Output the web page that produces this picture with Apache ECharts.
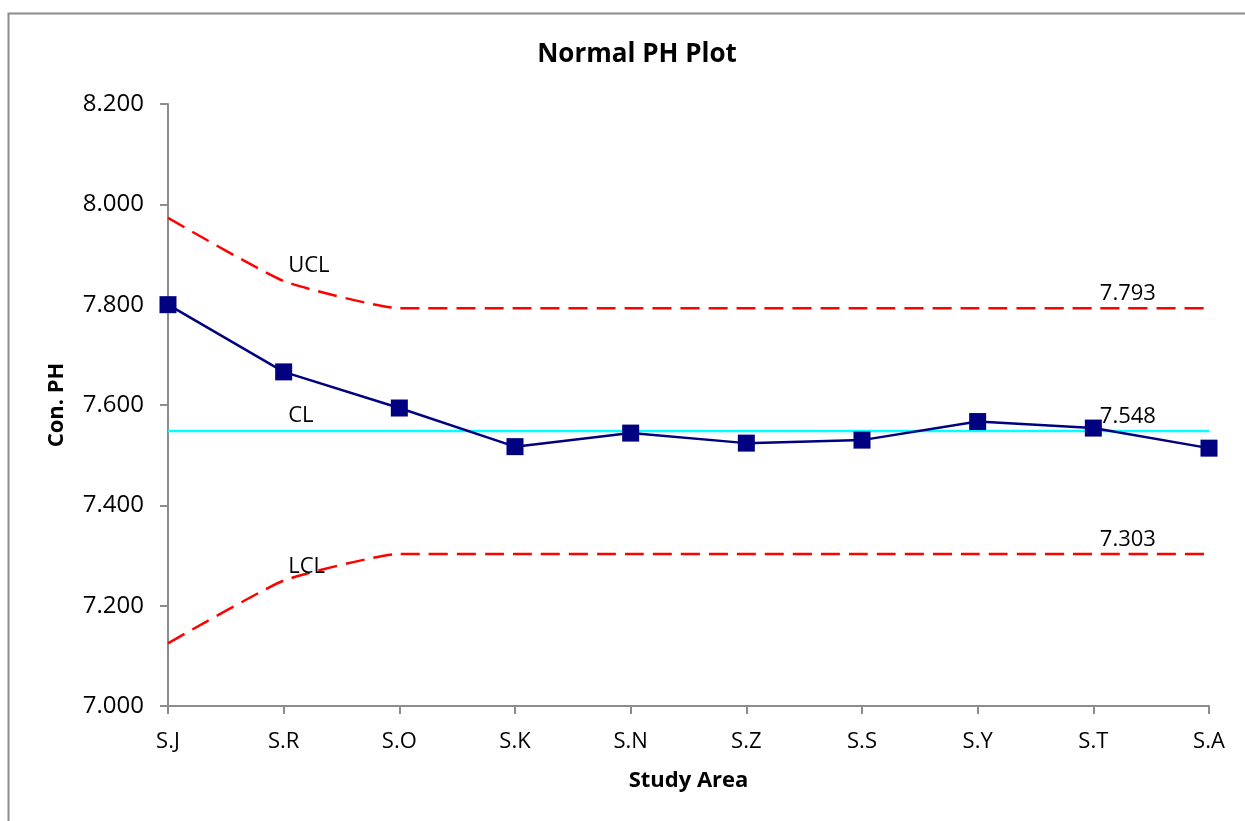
<!DOCTYPE html>
<html>
<head>
<meta charset="utf-8">
<script src="https://cdn.jsdelivr.net/npm/echarts@6/dist/echarts.min.js"></script>
<style>
html,body{margin:0;padding:0;background:#fff;}
#chart{width:1245px;height:821px;}
</style>
</head>
<body>
<div id="chart"></div>
<script>
const categories = ['S.J','S.R','S.O','S.K','S.N','S.Z','S.S','S.Y','S.T','S.A'];
const phValues = [7.800, 7.666, 7.594, 7.517, 7.544, 7.524, 7.530, 7.567, 7.554, 7.514];
const uclValues = [7.973, 7.847, 7.793, 7.793, 7.793, 7.793, 7.793, 7.793, 7.793, 7.793];
const clValues = [7.548, 7.548, 7.548, 7.548, 7.548, 7.548, 7.548, 7.548, 7.548, 7.548];
const lclValues = [7.125, 7.250, 7.303, 7.303, 7.303, 7.303, 7.303, 7.303, 7.303, 7.303];
const yTicks = {min: 7.0, max: 8.2, interval: 0.2};

const FONT = '"Open Sans", "Liberation Sans", sans-serif';
const labelStyle = {show: true, position: 'right', distance: 0, color: '#000', fontSize: 22, fontFamily: FONT};

function mp(cat, val, text, dx, dy) {
  return {
    coord: [cat, val], symbol: 'circle', symbolSize: 1,
    itemStyle: {color: 'rgba(0,0,0,0)'},
    label: Object.assign({}, labelStyle, {formatter: text, offset: [dx, dy]})
  };
}

const chart = echarts.init(document.getElementById('chart'), null, {renderer: 'canvas'});
chart.setOption({
  animation: false,
  backgroundColor: '#fff',
  title: {
    text: 'Normal PH Plot', left: 632, top: 37, textAlign: 'center',
    textStyle: {fontFamily: FONT, fontWeight: 'bold', fontSize: 26, color: '#000'}
  },
  graphic: [{
    type: 'rect', shape: {x: 8.5, y: 13.5, width: 1400, height: 1000},
    style: {fill: 'none', stroke: '#8c8c8c', lineWidth: 2}, silent: true, z: -1
  }],
  grid: {left: 168, right: 36, top: 104, bottom: 115},
  xAxis: {
    type: 'category', data: categories, boundaryGap: false,
    name: 'Study Area', nameLocation: 'middle', nameGap: 64,
    nameTextStyle: {fontFamily: FONT, fontWeight: 'bold', fontSize: 22, color: '#000'},
    axisLine: {lineStyle: {color: '#8c8c8c', width: 2}},
    axisTick: {show: true, inside: false, length: 8, alignWithLabel: true, lineStyle: {color: '#8c8c8c', width: 2}},
    axisLabel: {margin: 25, color: '#000', fontSize: 22, fontFamily: FONT},
    splitLine: {show: false}
  },
  yAxis: {
    type: 'value', min: yTicks.min, max: yTicks.max, interval: yTicks.interval,
    name: 'Con. PH', nameLocation: 'middle', nameGap: 100, nameRotate: 90,
    nameTextStyle: {fontFamily: FONT, fontWeight: 'bold', fontSize: 22, color: '#000'},
    axisLine: {show: true, lineStyle: {color: '#8c8c8c', width: 2}},
    axisTick: {show: true, inside: false, length: 8, lineStyle: {color: '#8c8c8c', width: 2}},
    axisLabel: {margin: 24, color: '#000', fontSize: 24, fontFamily: FONT,
      formatter: v => v.toFixed(3)},
    splitLine: {show: false}
  },
  series: [
    {
      name: 'UCL', type: 'line', data: uclValues, symbol: 'none', smooth: 0.15,
      lineStyle: {color: '#ff0000', width: 2.5, type: [19, 9]}, z: 2,
      markPoint: {data: [mp('S.R', uclValues[1], 'UCL', 4, -15), mp('S.T', uclValues[8], uclValues[8].toFixed(3), 6, -14)]}
    },
    {
      name: 'CL', type: 'line', data: clValues, symbol: 'none',
      lineStyle: {color: '#00ffff', width: 2.5}, z: 2,
      markPoint: {data: [mp('S.R', clValues[1], 'CL', 4, -15), mp('S.T', clValues[8], clValues[8].toFixed(3), 6, -14)]}
    },
    {
      name: 'LCL', type: 'line', data: lclValues, symbol: 'none', smooth: 0.15,
      lineStyle: {color: '#ff0000', width: 2.5, type: [19, 9]}, z: 2,
      markPoint: {data: [mp('S.R', lclValues[1], 'LCL', 4, -14), mp('S.T', lclValues[8], lclValues[8].toFixed(3), 6, -14)]}
    },
    {
      name: 'PH', type: 'line', data: phValues, symbol: 'rect', symbolSize: 17,
      itemStyle: {color: '#000080'}, lineStyle: {color: '#000080', width: 2.5}, z: 3
    }
  ]
});
</script>
</body>
</html>
